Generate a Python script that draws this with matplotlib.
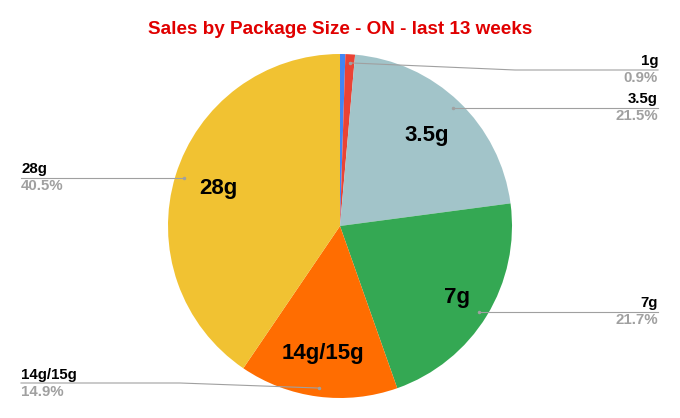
import matplotlib.pyplot as plt
import numpy as np

# data
sizes = ["", "1g", "3.5g", "7g", "14g/15g", "28g"]
shares = [0.5, 0.9, 21.5, 21.7, 14.9, 40.5]
pct_labels = ["", "0.9%", "21.5%", "21.7%", "14.9%", "40.5%"]
colors = ["#4285f4", "#ea4335", "#a2c4c9", "#34a853", "#ff6d01", "#f1c232"]

plt.rcParams["font.family"] = ["Liberation Sans", "DejaVu Sans"]

W, H = 680, 418
fig = plt.figure(figsize=(W / 100, H / 100), dpi=100)
ax = fig.add_axes([0, 0, 1, 1])

cx, cy, R = 340, H - 226, 172
wedges, _ = ax.pie(shares, colors=colors, startangle=90, counterclock=False,
                   center=(cx, cy), radius=R,
                   wedgeprops=dict(linewidth=0))
ax.set_xlim(0, W)
ax.set_ylim(0, H)
ax.set_aspect("auto")
ax.axis("off")


def mid_point(w, r):
    ang = np.deg2rad((w.theta1 + w.theta2) / 2)
    return cx + r * R * np.cos(ang), cy + r * R * np.sin(ang)


# inner labels
inner = {2: 0.73, 3: 0.8, 4: 0.75, 5: 0.74}
for i, r in inner.items():
    x, y = mid_point(wedges[i], r)
    ax.text(x, y, sizes[i], ha="center", va="center", fontsize=16,
            fontweight="bold", color="black")

# outside legend labels: (line y in px, elbow x or None, side)
outer = {1: (70, 515, "right"), 2: (108, None, "right"),
         3: (312, None, "right"), 4: (383, 180, "left"),
         5: (178, None, "left")}
for i, (ly, elbow, side) in outer.items():
    x0, y0 = mid_point(wedges[i], 0.95)
    yl = H - ly
    xe = 658 if side == "right" else 21
    if elbow is None:
        xs, ys = [x0, xe], [yl, yl]
    else:
        xs, ys = [x0, elbow, xe], [y0, yl, yl]
    ax.plot(xs, ys, color="#a0a0a0", linewidth=0.8)
    ax.plot(x0, y0 if elbow else yl, marker="o", markersize=1.5,
            color="#a0a0a0")
    ha = "right" if side == "right" else "left"
    ax.text(xe, yl + 1.5, sizes[i], ha=ha, va="bottom", fontsize=10.8,
            fontweight="bold", color="black")
    ax.text(xe, yl - 1.5, pct_labels[i], ha=ha, va="top", fontsize=10.8,
            fontweight="bold", color="#a0a0a0")

fig.text(0.5, 1 - 30 / H, "Sales by Package Size - ON - last 13 weeks",
         ha="center", va="center", fontsize=13.6, fontweight="bold",
         color="#e00000")

fig.savefig("out.png", dpi=100)
